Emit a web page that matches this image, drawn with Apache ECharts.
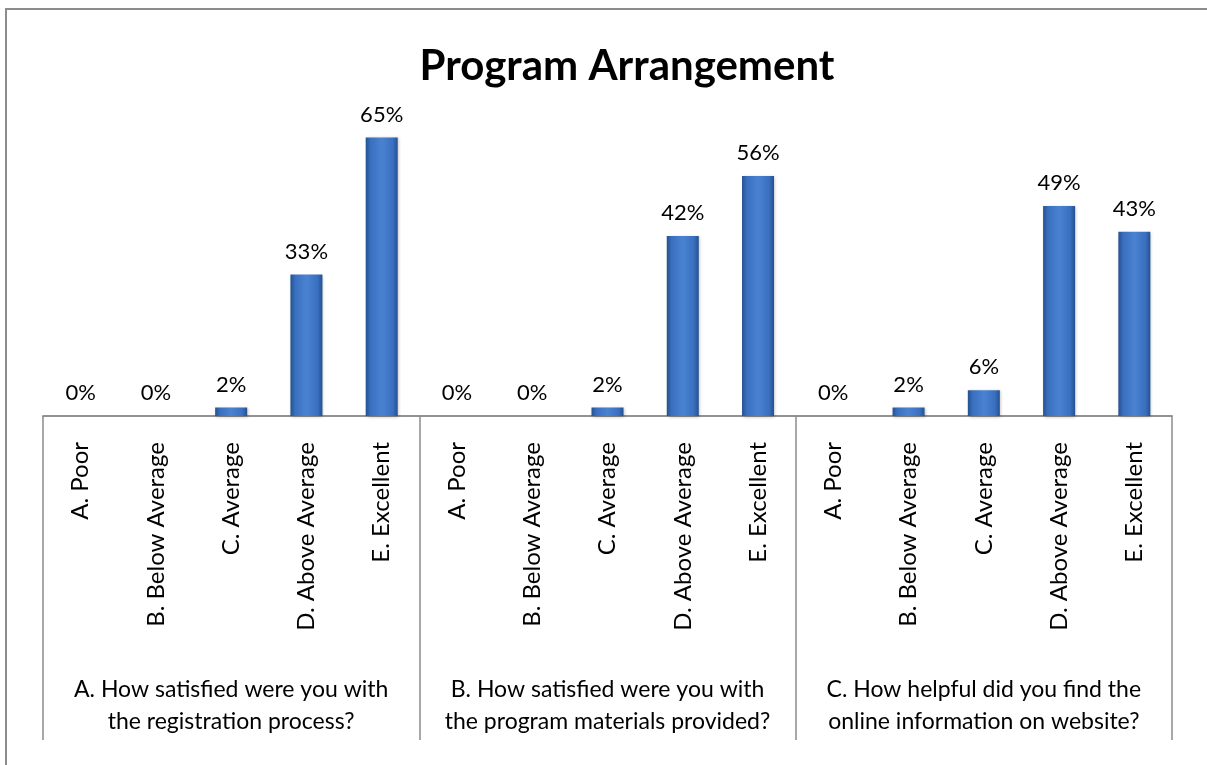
<!DOCTYPE html>
<html>
<head>
<meta charset="utf-8">
<script src="https://cdn.jsdelivr.net/npm/echarts@6/dist/echarts.min.js"></script>
<style>
  html, body { margin: 0; padding: 0; background: #fff; }
  #mychart { width: 1207px; height: 765px; }
</style>
</head>
<body>
<div id="mychart"></div>
<script>
// ratings (repeated for each question)
const ratings = ["A. Poor", "B. Below Average", "C. Average", "D. Above Average", "E. Excellent"];
// questions
const questions = [
  "A. How satisfied were you with\nthe registration process?",
  "B. How satisfied were you with\nthe program materials provided?",
  "C. How helpful did you find the\nonline information on website?"
];
// percent per rating, one list per question
const registration = [0, 0, 2, 33, 65];
const materials = [0, 0, 2, 42, 56];
const website = [0, 2, 6, 49, 43];

const xData = [].concat(ratings, ratings, ratings);
const values = [].concat(registration, materials, website);

const font = "Lato, 'Open Sans', sans-serif";
const lineGray = "#8c8c8c";

const option = {
  animation: false,
  title: {
    text: "Program Arrangement",
    left: 622,
    textAlign: "center",
    top: 40,
    textStyle: { fontFamily: font, fontSize: 42, fontWeight: "bold", color: "#000" }
  },
  graphic: [
    { // outer chart frame (cut off at right and bottom)
      type: "rect",
      shape: { x: 6, y: 9, width: 1300, height: 900 },
      style: { fill: "none", stroke: lineGray, lineWidth: 2 }
    }
  ],
  grid: { left: 43, right: 35, top: 116, bottom: 349 },
  xAxis: [
    {
      type: "category",
      data: xData,
      position: "bottom",
      axisLine: { show: true, lineStyle: { color: lineGray, width: 1.5 } },
      axisTick: { show: false },
      axisLabel: {
        rotate: 90,
        margin: 26,
        interval: 0,
        color: "#000",
        fontFamily: font,
        fontSize: 24
      }
    },
    {
      type: "category",
      data: questions,
      position: "bottom",
      axisLine: { show: true, lineStyle: { color: lineGray, width: 1.5 } },
      axisTick: { show: true, length: 324, lineStyle: { color: lineGray, width: 1.5 } },
      axisLabel: {
        margin: 258,
        interval: 0,
        color: "#000",
        fontFamily: font,
        fontSize: 23,
        lineHeight: 32
      }
    }
  ],
  yAxis: {
    type: "value",
    min: 0,
    max: 70,
    show: false
  },
  series: [
    {
      type: "bar",
      xAxisIndex: 0,
      data: values,
      barWidth: 32,
      itemStyle: {
        color: new echarts.graphic.LinearGradient(0, 0, 1, 0, [
          { offset: 0, color: "#24508f" },
          { offset: 0.15, color: "#3a6fbf" },
          { offset: 0.5, color: "#4a82d2" },
          { offset: 0.85, color: "#3a6fbf" },
          { offset: 1, color: "#24508f" }
        ]),
        shadowColor: "rgba(0,0,0,0.25)",
        shadowBlur: 3,
        shadowOffsetX: 1,
        shadowOffsetY: 1
      },
      label: {
        show: true,
        position: "top",
        distance: 12,
        formatter: "{c}%",
        color: "#000",
        fontFamily: font,
        fontSize: 22
      }
    }
  ]
};

const myChart = echarts.init(document.getElementById("mychart"));
myChart.setOption(option);
</script>
</body>
</html>
